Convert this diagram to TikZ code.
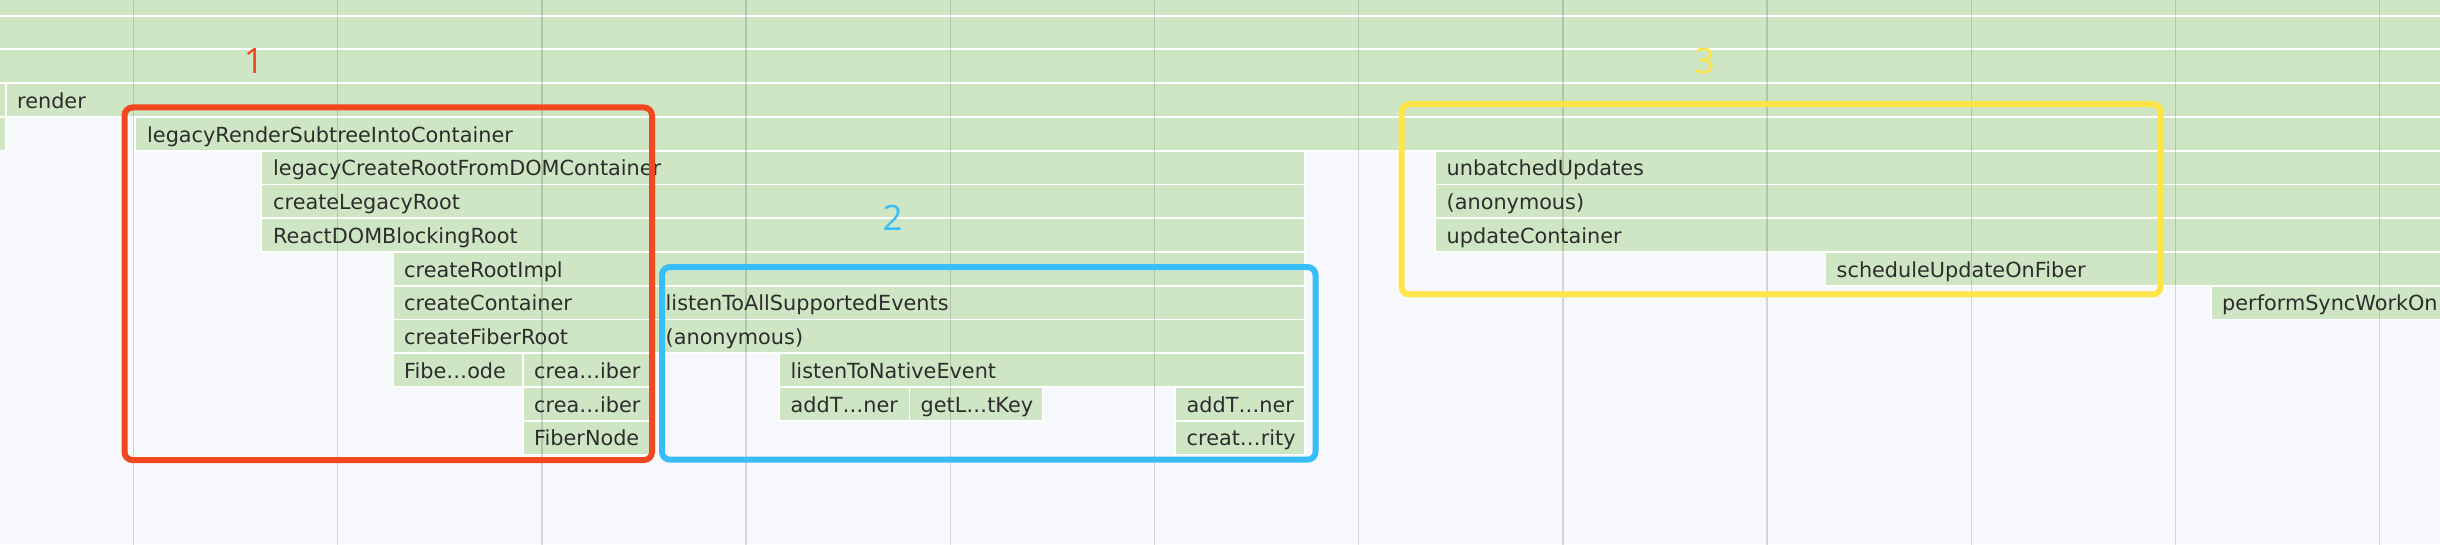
\documentclass[tikz,border=0pt]{standalone}
\usepackage{fontspec}
\setmainfont{DejaVu Sans}
\newfontfamily\numfont{Open Sans}
\usepackage{tikz}
\definecolor{flame}{RGB}{207,230,196}
\definecolor{panel}{RGB}{246,248,252}
\definecolor{fntext}{RGB}{45,45,45}
\definecolor{markred}{RGB}{242,72,34}
\definecolor{markblue}{RGB}{56,189,248}
\definecolor{markyellow}{RGB}{255,229,69}

\begin{document}
\begin{tikzpicture}[x=1pt,y=-33.76pt,
  bar/.style={fill=flame,draw=white,line width=1.8pt},
  fn/.style={anchor=base west,inner sep=0pt,text=fntext,font=\fontsize{20.8}{24}\selectfont},
  gridline/.style={draw=black,opacity=0.14,line width=1.5pt},
  markbox/.style={line width=6pt,rounded corners=8pt},
  marknum/.style={inner sep=0pt,font=\numfont\fontsize{35}{40}\selectfont}]
\useasboundingbox (0,0.5379) rectangle (2440,16.652);
\clip (0,0.5379) rectangle (2440,16.652);
\fill[panel] (0,0.5379) rectangle (2440,16.652);
% flame chart bars, one row per unit
\draw[bar] (-4,0) rectangle (2444,1);
\draw[bar] (-4,1) rectangle (2444,2);
\draw[bar] (-4,2) rectangle (2444,3);
\draw[bar] (-4,3) rectangle (5.8,4);
\draw[bar] (5.8,3) rectangle (2444,4);
\draw[bar] (-4,4) rectangle (5.8,5);
\draw[bar] (135,4) rectangle (2444,5);
\draw[bar] (261,5) rectangle (1305,6);
\draw[bar] (1435,5) rectangle (2444,6);
\draw[bar] (261,6) rectangle (1305,7);
\draw[bar] (1435,6) rectangle (2444,7);
\draw[bar] (261,7) rectangle (1305,8);
\draw[bar] (1435,7) rectangle (2444,8);
\draw[bar] (393,8) rectangle (1305,9);
\draw[bar] (1825,8) rectangle (2444,9);
\draw[bar] (393,9) rectangle (653.5,10);
\draw[bar] (653.5,9) rectangle (1305,10);
\draw[bar] (2211,9) rectangle (2444,10);
\draw[bar] (393,10) rectangle (653.5,11);
\draw[bar] (653.5,10) rectangle (1305,11);
\draw[bar] (393,11) rectangle (523,12);
\draw[bar] (523,11) rectangle (652,12);
\draw[bar] (779,11) rectangle (1305,12);
\draw[bar] (523,12) rectangle (652,13);
\draw[bar] (779,12) rectangle (909.5,13);
\draw[bar] (909.5,12) rectangle (1043,13);
\draw[bar] (1175,12) rectangle (1305,13);
\draw[bar] (523,13) rectangle (652,14);
\draw[bar] (1175,13) rectangle (1305,14);
% time grid
\foreach \i in {0,...,11}
  \draw[gridline] ({133.5+204.2*\i},0) -- ({133.5+204.2*\i},17);
% function names
\node[fn] (render) at (17,3.745) {render};
\node[fn] (lrsic) at (147,4.745) {legacyRenderSubtreeIntoContainer};
\node[fn] (lcrfdc) at (273,5.745) {legacyCreateRootFromDOMContainer};
\node[fn] (clr) at (273,6.745) {createLegacyRoot};
\node[fn] (rdbr) at (273,7.745) {ReactDOMBlockingRoot};
\node[fn] (cri) at (404,8.745) {createRootImpl};
\node[fn] (cc) at (404,9.745) {createContainer};
\node[fn] (cfr) at (404,10.745) {createFiberRoot};
\node[fn] (fnode) at (404,11.745) {Fibe…ode};
\node[fn] (cfa) at (534,11.745) {crea…iber};
\node[fn] (cfb) at (534,12.745) {crea…iber};
\node[fn] (fibernode) at (534,13.745) {FiberNode};
\node[fn] (ltase) at (665.5,9.745) {listenToAllSupportedEvents};
\node[fn] (anonl) at (665.5,10.745) {(anonymous)};
\node[fn] (ltne) at (790.5,11.745) {listenToNativeEvent};
\node[fn] (atla) at (790.5,12.745) {addT…ner};
\node[fn] (glk) at (920.5,12.745) {getL…tKey};
\node[fn] (atlb) at (1186.5,12.745) {addT…ner};
\node[fn] (celp) at (1186.5,13.745) {creat…rity};
\node[fn] (ubu) at (1446.5,5.745) {unbatchedUpdates};
\node[fn] (anonr) at (1446.5,6.745) {(anonymous)};
\node[fn] (uc) at (1446.5,7.745) {updateContainer};
\node[fn] (suof) at (1836.5,8.745) {scheduleUpdateOnFiber};
\node[fn] (pswo) at (2222,9.745) {performSyncWorkOn};
% marked regions
\draw[markbox,markred] (124.5,3.722) rectangle (652,14.164);
\draw[markbox,markblue] (662,8.447) rectangle (1315.5,14.155);
\draw[markbox,markyellow] (1401.5,3.624) rectangle (2160.5,9.261);
\node[marknum,text=markred] (num1) at (254,2.346) {1};
\node[marknum,text=markblue] (num2) at (892.5,6.981) {2};
\node[marknum,text=markyellow] (num3) at (1704.5,2.346) {3};
\end{tikzpicture}
\end{document}
